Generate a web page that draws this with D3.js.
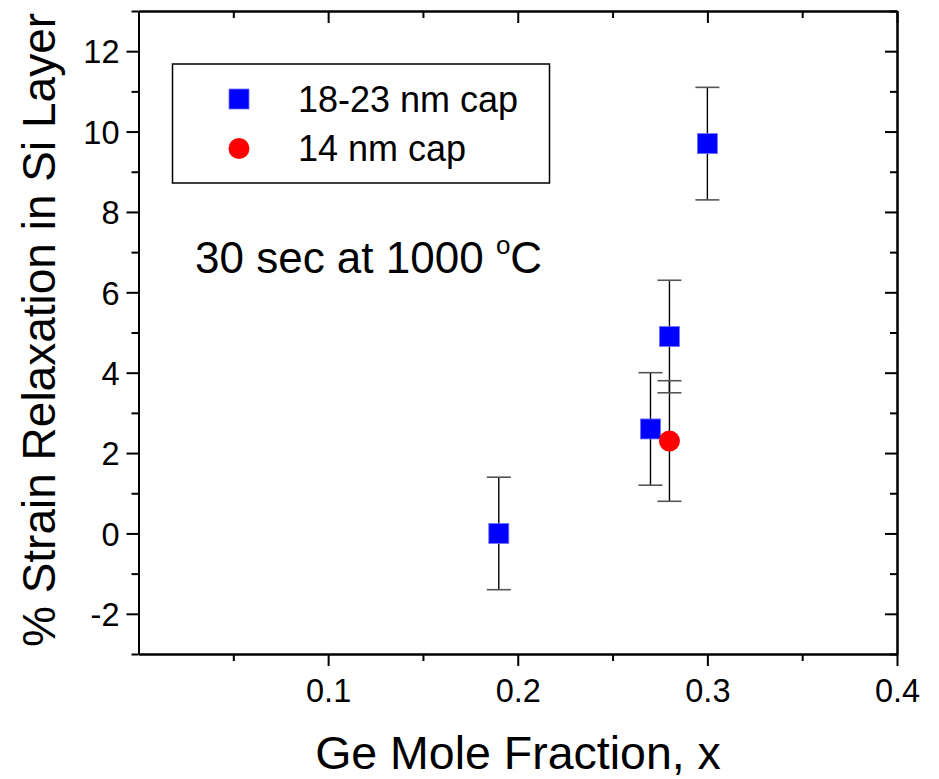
<!DOCTYPE html>
<html>
<head>
<meta charset="utf-8">
<script src="https://cdn.jsdelivr.net/npm/d3@7/dist/d3.min.js"></script>
<style>
body { margin: 0; background: #fff; }
svg { display: block; font-family: "Liberation Sans", Arial, sans-serif; }
.axis path, .axis line { stroke: #000; stroke-width: 2; }
</style>
</head>
<body>
<svg id="chart" width="939" height="779"></svg>
<script>
// data
var capXs = [0.19, 0.27, 0.28, 0.30];
var capYs = [0.0, 2.6, 4.9, 9.7];
var capErr = [1.4, 1.4, 1.4, 1.4];
var thinXs = [0.28];
var thinYs = [2.3];
var thinErr = [1.5];
var seriesNames = ["18-23 nm cap", "14 nm cap"];
var xMajor = [0.1, 0.2, 0.3, 0.4];
var xMinor = [0.05, 0.15, 0.25, 0.35];
var yMajor = [-2, 0, 2, 4, 6, 8, 10, 12];
var yMinor = [-3, -1, 1, 3, 5, 7, 9, 11, 13];

var svg = d3.select("#chart");
var pLeft = 138.5, pRight = 897, pTop = 11, pBottom = 654;

var x = d3.scaleLinear().domain([0, 0.4]).range([pLeft, pRight]);
var y = d3.scaleLinear().domain([-3, 13]).range([pBottom, pTop]);

var fmt = function(d) { return String(d); };

// bottom
svg.append("g").attr("class", "axis").attr("transform", "translate(0," + pBottom + ")")
	.call(d3.axisBottom(x).tickValues(xMajor).tickSize(12).tickSizeOuter(0).tickPadding(13).tickFormat(fmt));
svg.append("g").attr("class", "axis").attr("transform", "translate(0," + pBottom + ")")
	.call(d3.axisBottom(x).tickValues(xMinor).tickSize(7).tickSizeOuter(0).tickFormat(""));
// top, ticks pointing in
svg.append("g").attr("class", "axis").attr("transform", "translate(0," + pTop + ")")
	.call(d3.axisTop(x).tickValues(xMajor).tickSize(-12).tickSizeOuter(0).tickFormat(""));
svg.append("g").attr("class", "axis").attr("transform", "translate(0," + pTop + ")")
	.call(d3.axisTop(x).tickValues(xMinor).tickSize(-7).tickSizeOuter(0).tickFormat(""));
// left
svg.append("g").attr("class", "axis").attr("transform", "translate(" + pLeft + ",0)")
	.call(d3.axisLeft(y).tickValues(yMajor).tickSize(12).tickSizeOuter(0).tickPadding(7).tickFormat(fmt));
svg.append("g").attr("class", "axis").attr("transform", "translate(" + pLeft + ",0)")
	.call(d3.axisLeft(y).tickValues(yMinor).tickSize(7).tickSizeOuter(0).tickFormat(""));
// right, ticks pointing in
svg.append("g").attr("class", "axis").attr("transform", "translate(" + pRight + ",0)")
	.call(d3.axisRight(y).tickValues(yMajor).tickSize(-12).tickSizeOuter(0).tickFormat(""));
svg.append("g").attr("class", "axis").attr("transform", "translate(" + pRight + ",0)")
	.call(d3.axisRight(y).tickValues(yMinor).tickSize(-7).tickSizeOuter(0).tickFormat(""));

svg.selectAll(".axis text")
	.attr("font-size", 32.5)
	.attr("font-family", "'Liberation Sans', Arial, sans-serif")
	.attr("fill", "#000")
	.attr("dy", function() {
		var dy = d3.select(this).attr("dy");
		return dy == "0.32em" ? "0.36em" : dy;
	});

// axis titles
svg.append("text").attr("x", 518).attr("y", 769).attr("text-anchor", "middle")
	.attr("font-size", 46.5).text("Ge Mole Fraction, x");
svg.append("text").attr("transform", "translate(55,330) rotate(-90)").attr("text-anchor", "middle")
	.attr("font-size", 46).text("% Strain Relaxation in Si Layer");

// error bars then markers
var capPts = capXs.map(function(d, i) { return { x: d, y: capYs[i], e: capErr[i] }; });
var thinPts = thinXs.map(function(d, i) { return { x: d, y: thinYs[i], e: thinErr[i] }; });
var allPts = capPts.concat(thinPts);

var bars = svg.append("g");
bars.selectAll("line.v").data(allPts).enter().append("line")
	.attr("x1", function(d) { return x(d.x); }).attr("x2", function(d) { return x(d.x); })
	.attr("y1", function(d) { return y(d.y - d.e); }).attr("y2", function(d) { return y(d.y + d.e); })
	.attr("stroke", "#000").attr("stroke-width", 1.4);
[-1, 1].forEach(function(s) {
	bars.selectAll("line.c" + (s + 1)).data(allPts).enter().append("line")
		.attr("x1", function(d) { return x(d.x) - 12; }).attr("x2", function(d) { return x(d.x) + 12; })
		.attr("y1", function(d) { return y(d.y + s * d.e); }).attr("y2", function(d) { return y(d.y + s * d.e); })
		.attr("stroke", "#555").attr("stroke-width", 1.6);
});

svg.selectAll("rect.sq").data(capPts).enter().append("rect")
	.attr("x", function(d) { return x(d.x) - 10; }).attr("y", function(d) { return y(d.y) - 10; })
	.attr("width", 20).attr("height", 20)
	.attr("fill", "#0000ff").attr("stroke", "#7070ff").attr("stroke-width", 0.8);
svg.selectAll("circle.dot").data(thinPts).enter().append("circle")
	.attr("cx", function(d) { return x(d.x); }).attr("cy", function(d) { return y(d.y); })
	.attr("r", 10.5).attr("fill", "#ff0000");

// legend
var lg = svg.append("g");
lg.append("rect").attr("x", 172.5).attr("y", 64).attr("width", 377).attr("height", 119)
	.attr("fill", "none").attr("stroke", "#000").attr("stroke-width", 1.5);
lg.append("rect").attr("x", 229).attr("y", 89).attr("width", 20).attr("height", 20)
	.attr("fill", "#0000ff").attr("stroke", "#7070ff").attr("stroke-width", 0.8);
lg.append("circle").attr("cx", 239).attr("cy", 148.5).attr("r", 10.5).attr("fill", "#ff0000");
lg.selectAll("text").data(seriesNames).enter().append("text")
	.attr("x", 298).attr("y", function(d, i) { return 111.5 + i * 49.5; })
	.attr("font-size", 36).text(function(d) { return d; });

// annotation
var note = svg.append("text").attr("x", 195).attr("y", 273).attr("font-size", 44);
note.append("tspan").text("30 sec at 1000 ");
note.append("tspan").attr("font-size", 26).attr("dy", -19).text("o");
note.append("tspan").attr("dy", 19).text("C");
</script>
</body>
</html>
